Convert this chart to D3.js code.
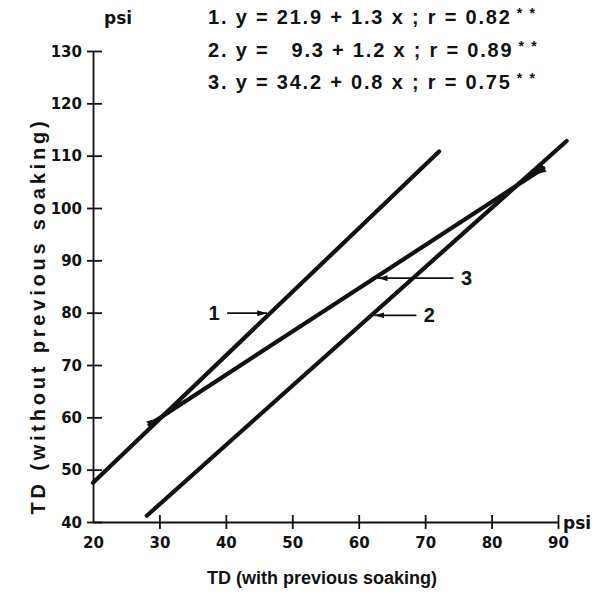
<!DOCTYPE html>
<html>
<head>
<meta charset="utf-8">
<script src="https://cdn.jsdelivr.net/npm/d3@7"></script>
<style>
  html, body { margin: 0; padding: 0; background: #fff; }
  svg text { font-family: "Liberation Sans", "DejaVu Sans", sans-serif; fill: #111; }
</style>
</head>
<body>
<svg id="chart" width="609" height="598"></svg>
<script>
// Regression results printed above the plot: y = intercept + slope * x
const lineIds = ["1", "2", "3"];
const intercepts = [21.9, 9.3, 34.2];
const slopes = [1.3, 1.2, 0.8];
const rValues = [0.82, 0.89, 0.75];

// Plotted line segments, [x, y] end points in psi
const line1 = [[20, 47.5], [72.1, 110.8]];
const line2 = [[28.1, 41.2], [91.3, 112.8]];
const line3 = [[28.5, 58.6], [87.8, 107.6]];
const segments = [line1, line2, line3];

// y level at which each callout arrow meets its line
const calloutY = [79.9, 79.5, 86.6];

const xTicks = [20, 30, 40, 50, 60, 70, 80, 90];
const yTicks = [40, 50, 60, 70, 80, 90, 100, 110, 120, 130];

const svg = d3.select("#chart");
const x = d3.scaleLinear().domain([20, 90]).range([93, 558]);
const y = d3.scaleLinear().domain([40, 130]).range([522, 51]);

const ink = "#111";

// Axes
const xAxis = d3.axisBottom(x).tickValues(xTicks).tickSize(0).tickPadding(0).tickFormat(d3.format("d"));
const yAxis = d3.axisLeft(y).tickValues(yTicks).tickSize(0).tickFormat(d3.format("d"));

const gx = svg.append("g").attr("transform", `translate(0,${y(40)})`).call(xAxis);
gx.select(".domain").attr("stroke", ink).attr("stroke-width", 1.8);
gx.selectAll(".tick").append("line")
  .attr("y1", -7).attr("y2", 7).attr("stroke", ink).attr("stroke-width", 1.8)
  .filter(d => d === 20).remove();
gx.selectAll(".tick text")
  .attr("y", 26).attr("dy", 0)
  .style("font-family", "'DejaVu Sans', sans-serif")
  .style("font-size", "15px").style("font-weight", "bold");

const gy = svg.append("g").attr("transform", `translate(${x(20)},0)`).call(yAxis);
gy.select(".domain").attr("stroke", ink).attr("stroke-width", 1.8);
gy.selectAll(".tick").append("line")
  .attr("x1", -6).attr("x2", 9).attr("stroke", ink).attr("stroke-width", 1.8);
gy.selectAll(".tick text")
  .attr("x", -11).attr("dy", "0.35em")
  .style("font-family", "'DejaVu Sans', sans-serif")
  .style("font-size", "15px").style("font-weight", "bold");

// unit labels
svg.append("text").attr("x", x(90) + 5).attr("y", y(40) + 7)
  .style("font-family", "'DejaVu Sans', sans-serif")
  .style("font-size", "17px").style("font-weight", "bold").text("psi");
svg.append("text").attr("x", 104).attr("y", 24)
  .style("font-family", "'DejaVu Sans', sans-serif")
  .style("font-size", "17px").style("font-weight", "bold").text("psi");

// axis titles
svg.append("text")
  .attr("x", 322).attr("y", 584)
  .attr("text-anchor", "middle")
  .style("font-size", "18px").style("font-weight", "bold").style("letter-spacing", "0px")
  .text("TD (with previous soaking)");
svg.append("text")
  .attr("transform", "translate(45,316) rotate(-90)")
  .attr("text-anchor", "middle")
  .style("font-size", "20px").style("font-weight", "bold").style("letter-spacing", "3.8px")
  .text("TD (without previous soaking)");

// markers: arrow heads for callouts, flared ends for line 3
const defs = svg.append("defs");
defs.append("marker")
  .attr("id", "head").attr("viewBox", "0 0 10 6").attr("refX", 10).attr("refY", 3)
  .attr("markerWidth", 10).attr("markerHeight", 6).attr("markerUnits", "userSpaceOnUse")
  .attr("orient", "auto")
  .append("path").attr("d", "M0,0 L10,3 L0,6 Z").attr("fill", ink);
defs.append("marker")
  .attr("id", "flare").attr("viewBox", "0 0 14 9").attr("refX", 13).attr("refY", 4.5)
  .attr("markerWidth", 14).attr("markerHeight", 9).attr("markerUnits", "userSpaceOnUse")
  .attr("orient", "auto-start-reverse")
  .append("path").attr("d", "M14,0 L14,9 L0,4.5 Z").attr("fill", ink);

// plotted lines
const lineGen = d3.line().x(d => x(d[0])).y(d => y(d[1]));
segments.forEach((seg, i) => {
  const p = svg.append("path")
    .attr("d", lineGen(seg))
    .attr("fill", "none").attr("stroke", ink).attr("stroke-width", 4.2)
    .attr("stroke-linecap", "round");
  if (i === 2) p.attr("marker-start", "url(#flare)").attr("marker-end", "url(#flare)");
});

// callout arrows with numbers: from the left for line 1, from the right for 2 and 3
const side = [-1, 1, 1];
const arrowLen = [40, 42, 76];
segments.forEach((seg, i) => {
  const [[x0, y0], [x1, y1]] = seg;
  const vy = calloutY[i];
  const vx = x0 + (vy - y0) * (x1 - x0) / (y1 - y0);
  const tipX = x(vx) + side[i] * 3;
  const tipY = y(vy);
  const tailX = tipX + side[i] * arrowLen[i];
  svg.append("line")
    .attr("x1", tailX).attr("y1", tipY).attr("x2", tipX).attr("y2", tipY)
    .attr("stroke", ink).attr("stroke-width", 1.8).attr("marker-end", "url(#head)");
  svg.append("text")
    .attr("x", tailX + side[i] * 13).attr("y", tipY).attr("dy", "0.36em")
    .attr("text-anchor", "middle")
    .style("font-size", "20px").style("font-weight", "bold")
    .text(lineIds[i]);
});

// regression equations
const fmt1 = d3.format(".1f");
const rowY = [24, 57, 89];
lineIds.forEach((id, i) => {
  const t = svg.append("text").attr("x", 208).attr("y", rowY[i])
    .style("font-size", "20px").style("font-weight", "bold")
    .style("letter-spacing", "1.8px").style("white-space", "pre");
  const b = fmt1(intercepts[i]);
  t.append("tspan").text(`${id}. y = ${b.length < 4 ? "  " : ""}${b} + ${fmt1(slopes[i])} x ; r = ${d3.format(".2f")(rValues[i])}`);
  t.append("tspan").attr("dx", 5).attr("dy", -6).style("font-size", "14px").text("* *");
});
</script>
</body>
</html>
